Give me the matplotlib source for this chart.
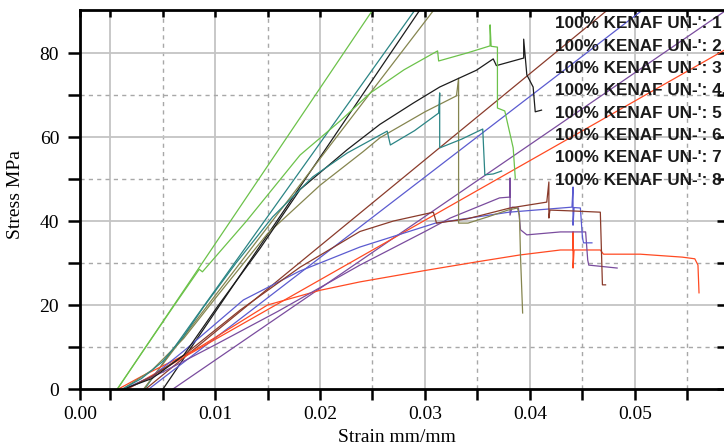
import numpy as np
import matplotlib.pyplot as plt

# strain / stress curves (8 specimens)
green_x = [0.0007, 0.0030, 0.0060, 0.0085, 0.0088, 0.0130, 0.0181, 0.0220, 0.0248, 0.0280, 0.0312, 0.0313, 0.0340, 0.0362, 0.0362, 0.0363, 0.0369, 0.0369, 0.0376, 0.0384, 0.0386]
green_y = [0, 8.5, 19.5, 28.5, 27.9, 40, 55.7, 64, 70.5, 76, 80.5, 78.1, 80.0, 81.7, 86.7, 81.6, 81.4, 66.9, 66.2, 57.4, 50.2]

teal_x = [0.0012, 0.0030, 0.0050, 0.0070, 0.0089, 0.0120, 0.0155, 0.0193, 0.0226, 0.0264, 0.0267, 0.0290, 0.0313, 0.0314, 0.0314, 0.0335, 0.0355, 0.0357, 0.0365, 0.0373]
teal_y = [0, 2.5, 6.5, 12.5, 19.5, 30, 41, 50.5, 56.2, 61.4, 58.1, 61.5, 65.7, 70.5, 57.4, 59.5, 61.9, 51.0, 51.2, 51.9]

black_x = [0.0013, 0.0040, 0.0070, 0.0102, 0.0143, 0.0181, 0.0226, 0.0257, 0.0289, 0.0314, 0.0349, 0.0365, 0.0368, 0.0394, 0.0394, 0.0397, 0.0403, 0.0405, 0.0411]
black_y = [0, 2.5, 8, 19.5, 33.5, 47.5, 57, 63, 68.1, 71.9, 75.9, 78.6, 77, 78.8, 83.3, 74.8, 71.9, 66.0, 66.4]

olive_x = [0.0012, 0.0040, 0.0070, 0.0100, 0.0150, 0.0200, 0.0241, 0.0257, 0.0300, 0.0330, 0.0332, 0.0332, 0.0341, 0.0360, 0.0379, 0.0388, 0.0390, 0.0391, 0.0393]
olive_y = [0, 4.5, 12, 21.5, 37, 48.5, 56.5, 59.8, 66, 69.8, 74.0, 39.5, 39.5, 41, 42.6, 43.1, 41.4, 31.4, 18.1]

brown_x = [0.0015, 0.0040, 0.0070, 0.0124, 0.0181, 0.0238, 0.0270, 0.0308, 0.0311, 0.0340, 0.0381, 0.0416, 0.0418, 0.0418, 0.0419, 0.0440, 0.0467, 0.0469, 0.0472]
brown_y = [0, 3, 8, 18.8, 29, 37.5, 40, 42.1, 39.5, 40.5, 43.1, 44.5, 49.3, 40.7, 42.6, 42.4, 42.1, 24.8, 24.8]

blue_x = [0.0013, 0.0040, 0.0070, 0.0127, 0.0180, 0.0238, 0.0310, 0.0380, 0.0440, 0.0441, 0.0441, 0.0442, 0.0448, 0.0450, 0.0451, 0.0459]
blue_y = [0, 3, 9, 21.2, 28, 33.8, 39.5, 42.1, 43.3, 48.1, 39.0, 43.2, 43.1, 36, 34.8, 34.8]

purple_x = [0.0015, 0.0050, 0.0100, 0.0160, 0.0238, 0.0300, 0.0324, 0.0371, 0.0381, 0.0381, 0.0381, 0.0383, 0.0389, 0.0391, 0.0397, 0.0429, 0.0453, 0.0455, 0.0456, 0.0483]
purple_y = [0, 4, 10.5, 18.5, 29.5, 37.5, 40.7, 45.5, 45.7, 50.2, 41.4, 43.3, 43.1, 37.9, 36.7, 37.4, 37.4, 30.7, 29.5, 28.8]

red_x = [0.0008, 0.0030, 0.0081, 0.0150, 0.0200, 0.0238, 0.0302, 0.0350, 0.0390, 0.0429, 0.0441, 0.0441, 0.0441, 0.0442, 0.0467, 0.0470, 0.0505, 0.0545, 0.0557, 0.0560, 0.0561]
red_y = [0, 3, 9.3, 20, 23.5, 25.5, 28.3, 30.3, 31.9, 33.1, 33.1, 37.4, 28.8, 33.1, 33.1, 32.1, 32.1, 31.4, 31.0, 29.5, 22.9]

# modulus (straight fit) lines: start and end points
green_fit_x = [0.0007, 0.0263]
teal_fit_x = [0.0033, 0.0304]
black_fit_x = [0.00505, 0.0308]
olive_fit_x = [0.0032, 0.0323]
brown_fit_x = [0.0034, 0.0497]
blue_fit_x = [0.0037, 0.0532]
purple_fit_x = [0.0060, 0.0615]
red_fit_x = [0.0017, 0.0686]
fit_y = [0, 95]

legend_labels = ["100% KENAF UN-': 1", "100% KENAF UN-': 2", "100% KENAF UN-': 3",
                 "100% KENAF UN-': 4.", "100% KENAF UN-': 5", "100% KENAF UN-': 6",
                 "100% KENAF UN-': 7", "100% KENAF UN-': 8"]

colors = {'green': '#6cc24a', 'teal': '#2b8585', 'black': '#1c1c1c', 'olive': '#85854f',
          'brown': '#8a3b2b', 'blue': '#5b5bd0', 'purple': '#7a4c9e', 'red': '#ff4a22'}

fig = plt.figure(figsize=(7.24, 4.47), dpi=100)
ax = fig.add_axes([80/724, 1 - 389/447, 644/724, 379/447])

xmin, xmax = -0.00286, 0.05848
ax.set_xlim(xmin, xmax)
ax.set_ylim(0, 90.24)

# grid
for gx in [0.0, 0.01, 0.02, 0.03, 0.04, 0.05]:
    ax.axvline(gx, color='#c4c4c4', lw=1.3, zorder=0)
for gx in [0.005, 0.015, 0.025, 0.035, 0.045, 0.055]:
    ax.axvline(gx, color='#a8a8a8', lw=1.0, ls=(0, (3, 3)), zorder=0)
for gy in [20, 40, 60, 80]:
    ax.axhline(gy, color='#c4c4c4', lw=1.3, zorder=0)
for gy in [10, 30, 50, 70]:
    ax.axhline(gy, color='#a8a8a8', lw=1.0, ls=(0, (3, 3)), zorder=0)

lw = 0.9
ax.plot(green_fit_x, fit_y, color=colors['green'], lw=lw)
ax.plot(teal_fit_x, fit_y, color=colors['teal'], lw=lw)
ax.plot(black_fit_x, fit_y, color=colors['black'], lw=lw)
ax.plot(olive_fit_x, fit_y, color=colors['olive'], lw=lw)
ax.plot(brown_fit_x, fit_y, color=colors['brown'], lw=lw)
ax.plot(blue_fit_x, fit_y, color=colors['blue'], lw=lw)
ax.plot(purple_fit_x, fit_y, color=colors['purple'], lw=lw)
ax.plot(red_fit_x, fit_y, color=colors['red'], lw=lw)

ax.plot(red_x, red_y, color=colors['red'], lw=lw)
ax.plot(purple_x, purple_y, color=colors['purple'], lw=lw)
ax.plot(blue_x, blue_y, color=colors['blue'], lw=lw)
ax.plot(brown_x, brown_y, color=colors['brown'], lw=lw)
ax.plot(olive_x, olive_y, color=colors['olive'], lw=lw)
ax.plot(black_x, black_y, color=colors['black'], lw=lw)
ax.plot(teal_x, teal_y, color=colors['teal'], lw=lw)
ax.plot(green_x, green_y, color=colors['green'], lw=lw)

# ticks
ax.set_xticks([xmin, 0.01, 0.02, 0.03, 0.04, 0.05])
ax.set_xticklabels(['0.00', '0.01', '0.02', '0.03', '0.04', '0.05'])
ax.set_xticks([0.0, 0.005, 0.015, 0.025, 0.035, 0.045, 0.055], minor=True)
ax.set_yticks([0, 20, 40, 60, 80])
ax.set_yticks([10, 30, 50, 70], minor=True)
ax.tick_params(axis='x', which='both', direction='out', length=8, width=1.8, pad=4,
               top=True, labelsize=14)
ax.tick_params(axis='y', which='both', direction='out', length=9, width=1.8, pad=6,
               right=True, labelsize=14)
for t in ax.xaxis.get_ticklabels() + ax.yaxis.get_ticklabels():
    t.set_fontfamily('Liberation Serif')
# top / right ticks point inward
for tl in ax.xaxis.get_ticklines(minor=False)[1::2] + ax.xaxis.get_ticklines(minor=True)[1::2]:
    tl.set_marker(3)
    tl.set_markersize(5)
for tl in ax.yaxis.get_ticklines(minor=False)[1::2] + ax.yaxis.get_ticklines(minor=True)[1::2]:
    tl.set_marker(0)
    tl.set_markersize(5)

for s in ['left', 'bottom', 'top']:
    ax.spines[s].set_linewidth(2)
ax.spines['right'].set_visible(False)

fig.text(16/724, 1 - 195/447, 'Stress MPa', rotation=90, ha='center', va='center',
         fontsize=14, family='Liberation Serif')
fig.text(397/724, 1 - 438/447, 'Strain mm/mm', ha='center', va='center',
         fontsize=14, family='Liberation Serif')

for i, lab in enumerate(legend_labels):
    fig.text(555/724, 1 - (24 + 22.3*i)/447, lab, ha='left', va='center',
             fontsize=12.3, family='Liberation Sans', weight='bold', color='#1a1a1a', zorder=10)

fig.savefig('out.png', dpi=100)
